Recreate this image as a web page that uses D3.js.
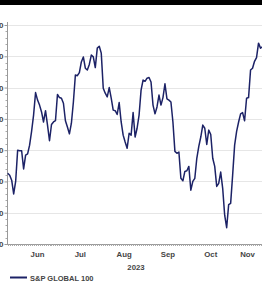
<!DOCTYPE html>
<html><head><meta charset="utf-8">
<script src="https://cdn.jsdelivr.net/npm/d3@7"></script>
<style>html,body{margin:0;padding:0;background:#fff;overflow:hidden}svg{display:block}</style>
</head><body>
<svg id="c" width="262" height="283"></svg>
<script>
// ---- data ----
const startDate = "2023-05-25";           // first trading day shown
const seriesName = "S&P GLOBAL 100";
const values = [2763,2760,2752,2730,2750,2800,2799,2799,2770,2792,2794,2808,2830,2856,2892,2880,2872,2861,2845,2863,
2840,2815,2841,2845,2847,2889,2884,2883,2875,2847,2837,2826,2843,2877,2920,2919,2924,2941,2949,2931,
2928,2937,2952,2949,2932,2963,2966,2955,2899,2891,2885,2900,2883,2864,2863,2857,2876,2845,2824,2813,
2803,2827,2824,2860,2821,2835,2856,2896,2912,2910,2915,2916,2909,2872,2858,2869,2888,2872,2884,2906,
2882,2880,2877,2845,2798,2795,2797,2755,2751,2766,2767,2774,2736,2750,2755,2787,2806,2821,2840,2835,
2809,2832,2825,2787,2774,2742,2747,2765,2739,2696,2676,2713,2715,2760,2808,2830,2845,2858,2860,2847,
2883,2884,2928,2931,2942,2948,2971,2963,2965];
const yTicks = [2650,2700,2750,2800,2850,2900,2950,3000];
const monthLabels = ["Jun","Jul","Aug","Sep","Oct","Nov"];
const yearLabel = "2023";

(function(){
// trading days (weekdays) for each value
const dates = [];
{ let d = new Date(startDate + "T00:00:00");
  while (dates.length < values.length) {
    const w = d.getDay();
    if (w !== 0 && w !== 6) dates.push(new Date(d));
    d.setDate(d.getDate() + 1);
  } }
const data = dates.map((d,i)=>({date:d, i, v:values[i]}));

const svg = d3.select("#c");
const fontF = "'Liberation Sans', Arial, sans-serif";
const navy = "#1c2266";

// top black band
svg.append("rect").attr("x",0).attr("y",0).attr("width",262).attr("height",5).attr("fill","#000");

const pLeft = 7, pTop = 25, pBottom = 244;
const x = d3.scaleLinear().domain([0, values.length-1]).range([7.7, 262.5]);
const y = d3.scaleLinear().domain([2650,3000]).range([pBottom, pTop]);

// gridlines
svg.append("g").selectAll("line").data(yTicks.slice(1)).join("line")
  .attr("x1",pLeft).attr("x2",262).attr("y1",d=>Math.round(y(d))+0.5).attr("y2",d=>Math.round(y(d))+0.5)
  .attr("stroke","#e6e6e6").attr("stroke-width",1);

// y axis with minor ticks
const yAxis = d3.axisLeft(y).tickValues(yTicks).tickSize(3).tickPadding(1).tickFormat(d3.format(","));
const gy = svg.append("g").attr("transform",`translate(${pLeft+0.5},0)`).call(yAxis);
gy.select(".domain").attr("stroke","#999").attr("d",`M0,${pTop-3}V${pBottom}`);
gy.selectAll(".tick line").attr("stroke","#999");
gy.selectAll("text").attr("font-family",fontF).attr("font-size",8).attr("font-weight","bold").attr("fill","#444");
const minorY = d3.range(2660,3000,10).filter(v=>v%50!==0);
svg.append("g").selectAll("line").data(minorY).join("line")
  .attr("x1",pLeft-1.5).attr("x2",pLeft).attr("y1",d=>Math.round(y(d))+0.5).attr("y2",d=>Math.round(y(d))+0.5)
  .attr("stroke","#aaa");

// x axis
svg.append("line").attr("x1",pLeft).attr("x2",262).attr("y1",pBottom+0.5).attr("y2",pBottom+0.5).attr("stroke","#999");
svg.append("g").selectAll("line").data(data).join("line")
  .attr("x1",d=>Math.round(x(d.i))+0.5).attr("x2",d=>Math.round(x(d.i))+0.5)
  .attr("y1",pBottom+0.5).attr("y2",pBottom+2).attr("stroke","#aaa");

// month labels centred on each month's span of trading days
const byMonth = d3.groups(data, d=>d.date.getMonth());
const monthPos = byMonth.filter(([m])=>m>=5).map(([m,arr],k)=>({
  label: monthLabels[k], cx: (x(arr[0].i)+x(arr[arr.length-1].i))/2 - 1 }));
svg.append("g").selectAll("text").data(monthPos).join("text")
  .attr("x",d=>d.cx).attr("y",257).attr("text-anchor","middle")
  .attr("font-family",fontF).attr("font-size",7.8).attr("font-weight","bold").attr("fill","#444")
  .text(d=>d.label);
svg.append("text").attr("x",136).attr("y",269.5).attr("text-anchor","middle")
  .attr("font-family",fontF).attr("font-size",7.8).attr("font-weight","bold").attr("fill","#444").text(yearLabel);

// line
const line = d3.line().x(d=>x(d.i)).y(d=>y(d.v));
svg.append("path").datum(data).attr("d",line).attr("fill","none")
  .attr("stroke",navy).attr("stroke-width",1.5).attr("stroke-linejoin","round");

// legend
svg.append("line").attr("x1",10).attr("x2",27).attr("y1",277.5).attr("y2",277.5).attr("stroke",navy).attr("stroke-width",2);
svg.append("text").attr("x",30).attr("y",281).attr("font-family",fontF).attr("font-size",7.5)
  .attr("font-weight","bold").attr("fill","#444").text(seriesName);
})();
</script>
</body></html>
